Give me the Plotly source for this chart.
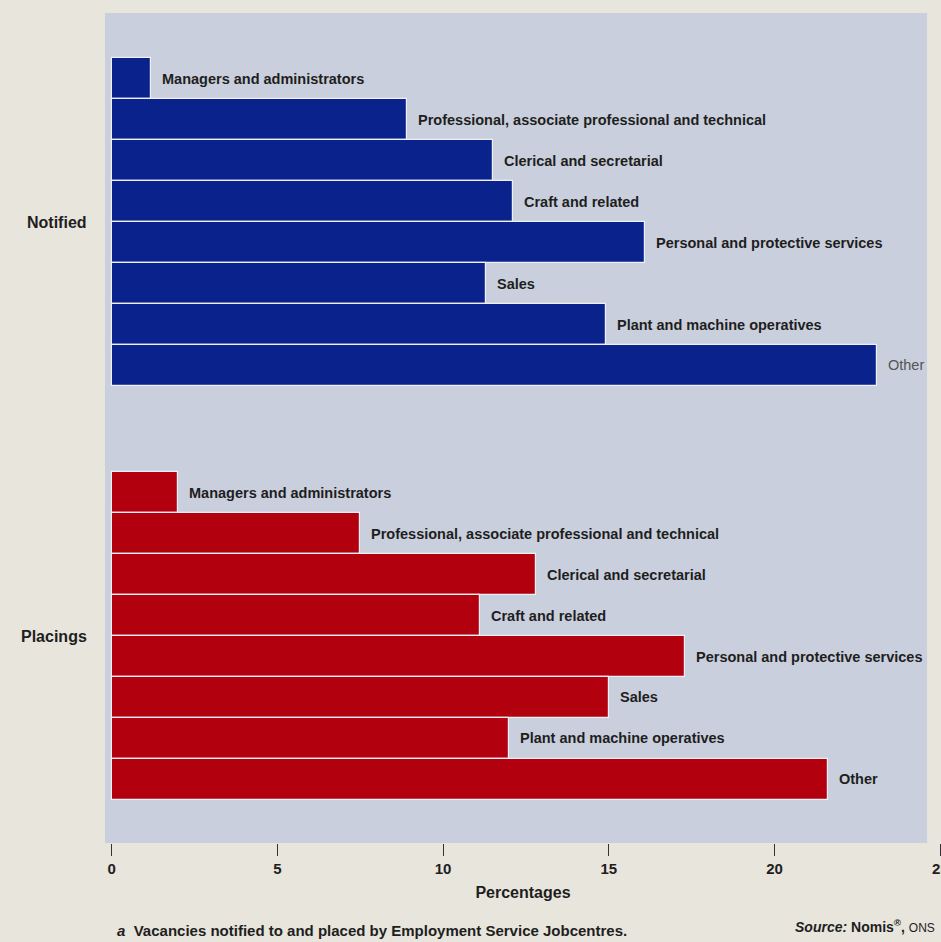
import plotly.graph_objects as go

# Occupation groups, top to bottom within each panel
occupations = [
    "Managers and administrators",
    "Professional, associate professional and technical",
    "Clerical and secretarial",
    "Craft and related",
    "Personal and protective services",
    "Sales",
    "Plant and machine operatives",
    "Other",
]
# Percentage shares of vacancies
notified = [1.2, 8.9, 11.5, 12.1, 16.1, 11.3, 14.9, 23.1]
placings = [2.0, 7.5, 12.8, 11.1, 17.3, 15.0, 12.0, 21.6]

x_ticks = [0, 5, 10, 15, 20, 25]

PAGE = "#e7e5dc"
PANEL = "#c9cfdc"
BLUE = "#0a228c"
RED = "#b3000f"
INK = "#1e1e1e"
FONT = "Liberation Sans, Arial, sans-serif"

# vertical layout of the two panels (one unit = one bar)
notified_top = 1.1
placings_top = 11.2
y_notified = [notified_top + 0.5 + i for i in range(len(occupations))]
y_placings = [placings_top + 0.5 + i for i in range(len(occupations))]

fig = go.Figure()

for panel, vals, ys, col in [("n", notified, y_notified, BLUE), ("p", placings, y_placings, RED)]:
    fig.add_trace(go.Bar(
        x=vals, y=ys, orientation="h", width=1.0,
        marker=dict(color=col, line=dict(color="#eef0f6", width=1.2)),
        hoverinfo="x", showlegend=False,
    ))
    for v, y, name in zip(vals, ys, occupations):
        faint = panel == "n" and name == "Other"
        fig.add_annotation(
            x=v, y=y, xref="x", yref="y",
            text=name if faint else f"<b>{name}</b>",
            showarrow=False, xanchor="left", yanchor="middle", xshift=9,
            font=dict(family=FONT, size=14.5, color="#555555" if faint else INK),
        )

# panel labels
for label, yc in [("<b>Notified</b>", notified_top + 4), ("<b>Placings</b>", placings_top + 4)]:
    fig.add_annotation(
        x=-0.2, y=yc, xref="x", yref="y", text=label, showarrow=False,
        xanchor="right", yanchor="middle", xshift=-16,
        font=dict(family=FONT, size=16, color=INK),
    )

# shaded panel behind the bars
fig.add_shape(
    type="rect", xref="x", yref="y", x0=-0.2, x1=24.6, y0=0, y1=20.25,
    fillcolor=PANEL, line=dict(width=0), layer="below",
)

# footnote and source
fig.add_annotation(
    x=0.012, y=-0.105, xref="paper", yref="paper", showarrow=False,
    xanchor="left", yanchor="middle",
    text="<b><i>a</i>  Vacancies notified to and placed by Employment Service Jobcentres.</b>",
    font=dict(family=FONT, size=15, color=INK),
)
fig.add_annotation(
    x=0.823, y=-0.1, xref="paper", yref="paper", showarrow=False,
    xanchor="left", yanchor="middle",
    text="<b><i>Source:</i> Nomis<sup>®</sup>, </b><span style='font-size:12px'>ONS</span>",
    font=dict(family=FONT, size=14, color=INK),
)

fig.update_layout(
    width=941, height=942,
    margin=dict(l=105, r=0, t=13, b=99),
    paper_bgcolor=PAGE, plot_bgcolor="rgba(0,0,0,0)",
    bargap=0,
    xaxis=dict(
        range=[-0.2, 25.02], tickvals=x_ticks, ticktext=[f"<b>{t}</b>" for t in x_ticks],
        ticks="outside", ticklen=12, tickwidth=1, tickcolor="#333333",
        showgrid=False, zeroline=False, showline=False, automargin=False,
        ticklabeloverflow="allow",
        tickfont=dict(family=FONT, size=15, color=INK),
        title=dict(text="<b>Percentages</b>", standoff=10,
                   font=dict(family=FONT, size=16, color=INK)),
    ),
    yaxis=dict(
        range=[20.25, 0], showticklabels=False, showgrid=False,
        zeroline=False, showline=False, ticks="", automargin=False,
    ),
)

fig.write_html("out.html")
